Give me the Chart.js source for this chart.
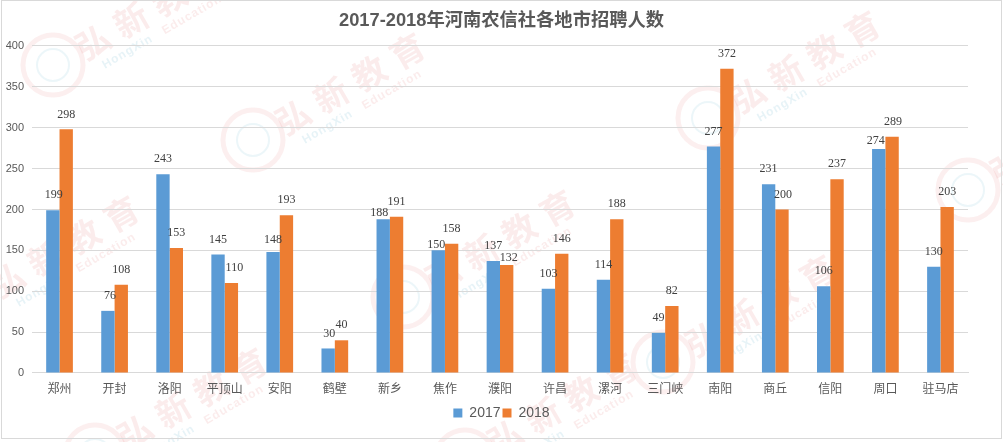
<!DOCTYPE html>
<html>
<head>
<meta charset="utf-8">
<script src="https://cdn.jsdelivr.net/npm/chart.js@4"></script>
<style>
  html, body { margin: 0; padding: 0; background: #fff; }
  #box { width: 1003px; height: 442px; position: relative; overflow: hidden; }
  #box:after { content: ''; position: absolute; left: 1px; top: 0; width: 999px; height: 437px; border: 1px solid #d9d9d9; pointer-events: none; }
</style>
</head>
<body>
<div id="box"><canvas id="chart" width="1003" height="442"></canvas></div>
<script>
const titleText = '2017-2018年河南农信社各地市招聘人数';
const categories = ['郑州', '开封', '洛阳', '平顶山', '安阳', '鹤壁', '新乡', '焦作', '濮阳', '许昌', '漯河', '三门峡', '南阳', '商丘', '信阳', '周口', '驻马店'];
const values2017 = [199, 76, 243, 145, 148, 30, 188, 150, 137, 103, 114, 49, 277, 231, 106, 274, 130];
const values2018 = [298, 108, 153, 110, 193, 40, 191, 158, 132, 146, 188, 82, 372, 200, 237, 289, 203];

// hand placed spots for labels that excel pushed out of the way: [dataset, index, dx, dy]
const labelNudges = [
  [0, 0, 1, 0], [0, 1, 2, 0], [1, 3, 3, 0], [0, 4, 0, 3], [0, 5, 1, 0], [0, 6, -4, 9],
  [0, 7, -2, 9], [1, 8, 2, 8], [1, 13, 1, 0], [0, 15, -3, 7], [1, 15, 1, 0]
];
// watermark stamps, [x, y] of the round logo
const stamps = [[53, 65], [253, 140], [708, 118], [968, 190], [403, 297], [-33, 303], [663, 362], [95, 455], [465, 460]];
const stampChars = ['弘', '新', '教', '育'];

const valueLabels = {
  id: 'valueLabels',
  afterDatasetsDraw(chart) {
    const ctx = chart.ctx;
    ctx.save();
    ctx.font = '12px "Liberation Serif"';
    ctx.fillStyle = '#404040';
    ctx.textAlign = 'center';
    ctx.textBaseline = 'middle';
    chart.data.datasets.forEach((ds, d) => {
      chart.getDatasetMeta(d).data.forEach((bar, i) => {
        const nudge = labelNudges.find(n => n[0] === d && n[1] === i);
        const dx = nudge ? nudge[2] : 0;
        const dy = nudge ? nudge[3] : 0;
        ctx.fillText(ds.data[i], bar.x + dx, bar.y - 15 + dy);
      });
    });
    ctx.restore();
  }
};

const watermark = {
  id: 'watermark',
  beforeDraw(chart) {
    const ctx = chart.ctx;
    stamps.forEach(s => {
      ctx.save();
      ctx.translate(s[0], s[1]);
      ctx.beginPath();
      ctx.arc(0, 0, 30, 0, Math.PI * 2);
      ctx.lineWidth = 5;
      ctx.strokeStyle = 'rgba(230,120,120,0.12)';
      ctx.stroke();
      ctx.beginPath();
      ctx.arc(0, 0, 16, 0, Math.PI * 2);
      ctx.lineWidth = 2;
      ctx.strokeStyle = 'rgba(120,190,210,0.14)';
      ctx.stroke();
      ctx.rotate(-30 * Math.PI / 180);
      ctx.textBaseline = 'middle';
      ctx.textAlign = 'center';
      ctx.font = 'bold 34px "Noto Sans CJK SC"';
      ctx.fillStyle = 'rgba(230,120,120,0.14)';
      stampChars.forEach((c, i) => ctx.fillText(c, 46 + i * 44, 0));
      ctx.textAlign = 'left';
      ctx.letterSpacing = '1px';
      ctx.font = 'bold 12px "Liberation Sans"';
      ctx.fillStyle = 'rgba(120,190,210,0.18)';
      ctx.fillText('HongXin', 43, 26);
      ctx.fillStyle = 'rgba(230,120,120,0.14)';
      ctx.fillText('Education', 112, 26);
      ctx.restore();
    });
  }
};

new Chart(document.getElementById('chart'), {
  type: 'bar',
  data: {
    labels: categories,
    datasets: [
      { label: '2017', data: values2017, backgroundColor: '#5b9bd5' },
      { label: '2018', data: values2018, backgroundColor: '#ed7d31' }
    ]
  },
  options: {
    responsive: false,
    animation: false,
    devicePixelRatio: 1,
    layout: { padding: { top: 0, right: 0, bottom: 12, left: 0 } },
    datasets: { bar: { barPercentage: 1, categoryPercentage: 0.485 } },
    scales: {
      x: {
        grid: { display: false, drawTicks: false },
        border: { color: '#d9d9d9' },
        ticks: { color: '#595959', font: { family: '"Noto Sans CJK SC"', size: 12 }, padding: 8, autoSkip: false, maxRotation: 0 },
        afterFit(axis) { axis.height = 31; }
      },
      y: {
        min: 0, max: 400,
        grid: { color: '#d9d9d9', drawTicks: false },
        border: { display: false },
        ticks: { stepSize: 50, color: '#595959', font: { family: '"Liberation Sans"', size: 11 }, padding: 8 },
        afterFit(axis) { axis.width = 32; }
      },
      // empty axis, only keeps the plot clear of the right edge so title and legend stay centred
      margin: {
        position: 'right',
        grid: { display: false, drawTicks: false },
        border: { display: false },
        ticks: { display: false },
        afterFit(axis) { axis.width = 35; }
      }
    },
    plugins: {
      title: {
        display: true,
        text: titleText,
        color: '#595959',
        font: { family: '"Liberation Sans", "Noto Sans CJK SC"', size: 18.3, weight: 'bold' },
        padding: { top: 10, bottom: 14 }
      },
      legend: {
        position: 'bottom',
        labels: { boxWidth: 9, boxHeight: 9, color: '#595959', padding: 2, font: { family: '"Liberation Sans"', size: 14 } }
      },
      tooltip: { enabled: false }
    }
  },
  plugins: [watermark, valueLabels]
});
</script>
</body>
</html>
